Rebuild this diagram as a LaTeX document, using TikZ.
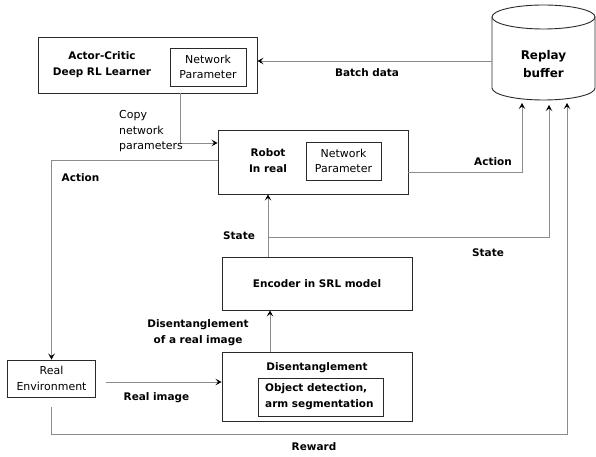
\documentclass[tikz,border=0pt]{standalone}
\usepackage{fontspec}
\setmainfont{DejaVu Sans}
\usetikzlibrary{arrows.meta,calc}
\definecolor{linegray}{HTML}{8C8C8C}
\definecolor{boxdark}{HTML}{2A2A2A}
\tikzset{
  box/.style={draw=boxdark, line width=0.9bp, rectangle, inner sep=0pt},
  arr/.style={draw=linegray, line width=0.9bp, -{Stealth[length=6bp,width=6.5bp,inset=2.5bp,color=black]}},
  lbl/.style={font=\fontsize{10.5}{16}\selectfont\bfseries, inner sep=0pt, align=center},
  txt/.style={font=\fontsize{11}{15.5}\selectfont, inner sep=0pt, align=center},
  big/.style={font=\fontsize{12}{18}\selectfont\bfseries, inner sep=0pt, align=center}
}
\begin{document}
\begin{tikzpicture}[x=1bp,y=-1bp]
\useasboundingbox (0,0) rectangle (596,457);
% boxes
\node[box, minimum width=219bp, minimum height=56bp] (actor) at (147.5,65) {};
\node[box, minimum width=76bp, minimum height=38bp, txt] (actornp) at (208,67) {Network\\Parameter};
\node[lbl] (actortxt) at (102,65) {Actor-Critic\\Deep RL Learner};

\node[box, minimum width=190bp, minimum height=64bp] (robot) at (313,162) {};
\node[box, minimum width=75bp, minimum height=38bp, txt] (robotnp) at (343.5,161) {Network\\Parameter};
\node[lbl] (robottxt) at (268,161) {Robot\\In real};

\node[box, minimum width=190bp, minimum height=53bp, lbl] (enc) at (317,283.5) {Encoder in SRL model};

\node[box, minimum width=190bp, minimum height=69bp] (dis) at (317,386.5) {};
\node[lbl] (distxt) at (317,368) {Disentanglement};
\node[box, minimum width=125bp, minimum height=38bp] (obj) at (320.5,397) {};
\node[lbl, align=left, anchor=west] (objtxt) at (265,397) {Object detection,\\arm segmentation};

\node[box, minimum width=88bp, minimum height=37bp, txt] (realenv) at (51.5,378.5) {Real\\Environment};

% cylinder
\node[minimum width=103bp, minimum height=95bp, inner sep=0pt] (rb) at (543.5,52.5) {};
\draw[boxdark, line width=0.9bp] (492,17) -- (492,88) arc[start angle=180, end angle=360, x radius=51.5, y radius=-12] -- (595,17);
\draw[boxdark, line width=0.9bp] (543.5,17) ellipse[x radius=51.5, y radius=12];
\node[big] (rbtxt) at (543.5,64) {Replay\\buffer};

% coordinates
\coordinate (cA) at (522,103);
\coordinate (cS) at (549,105);
\coordinate (cR) at (567,103);
\coordinate (yBatch) at (0,61);
\coordinate (cCopy) at (180,143);
\coordinate (yActR) at (0,172);
\coordinate (cActL) at (51.5,160);
\coordinate (yRI) at (0,382);
\coordinate (xDE) at (270,0);
\coordinate (xER) at (268,0);
\coordinate (cState) at (268,237);
\coordinate (cRew) at (567,434);

% connectors
\draw[arr] (rb.west |- yBatch) -- (actor.east |- yBatch);
\draw[arr] (actor.south -| cCopy) |- (robot.west |- cCopy);
\draw[arr] (robot.east |- yActR) -| (cA);
\draw[arr] (robot.west |- cActL) -| (realenv.north);
\draw[arr] ([xshift=10bp]realenv.east |- yRI) -- (dis.west |- yRI);
\draw[arr] (dis.north -| xDE) -- (enc.south -| xDE);
\draw[arr] (enc.north -| xER) -- (robot.south -| xER);
\draw[arr] (cState) -| (cS);
\draw[arr] ([yshift=-10bp]realenv.south) |- (cRew) -- (cR);

% labels
\node[lbl] (lBatch) at (367,73) {Batch data};
\node[txt, align=left, anchor=north west] (lCopy) at (119,110.5) {Copy\\network\\parameters};
\node[lbl] (lActR) at (493,162) {Action};
\node[lbl] (lActL) at (80.5,178) {Action};
\node[lbl] (lStateL) at (239,236) {State};
\node[lbl] (lStateR) at (488,253) {State};
\node[lbl] (lDis) at (198,332.5) {Disentanglement\\of a real image};
\node[lbl] (lRI) at (156.5,398) {Real image};
\node[lbl] (lRew) at (314,447) {Reward};
\end{tikzpicture}
\end{document}
